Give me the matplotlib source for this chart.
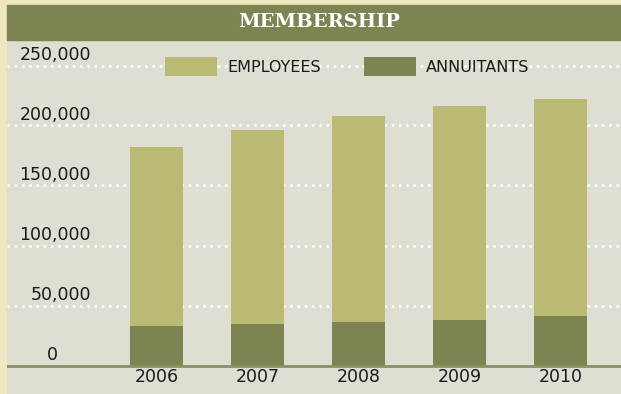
import matplotlib
matplotlib.use("Agg")
import matplotlib.pyplot as plt
from matplotlib.patches import Rectangle
import matplotlib.transforms as mtransforms

# Membership counts by year
years = ["2006", "2007", "2008", "2009", "2010"]
employees = [149200, 161700, 171700, 178400, 180900]
annuitants = [32900, 34600, 36300, 37900, 41300]
y_ticks = [0, 50000, 100000, 150000, 200000, 250000]
y_tick_labels = ["0", "50,000", "100,000", "150,000", "200,000", "250,000"]

OUTER = "#EFE7BF"
PANEL = "#DEDED2"
OLIVE = "#7E8352"
LIGHT = "#BABA75"
AXLINE = "#8C9163"

W, H = 621, 394
fig = plt.figure(figsize=(W / 100, H / 100), dpi=100, facecolor=OUTER)

# Plot panel: x from 7 px to right edge, y from 40 px to bottom
ax = fig.add_axes([7 / W, 0, (W - 7) / W, (H - 40) / H])
ax.set_facecolor(PANEL)
for s in ax.spines.values():
    s.set_visible(False)

x = list(range(len(years)))
bar_w = 0.525
ax.bar(x, annuitants, width=bar_w, color=OLIVE, zorder=3, label="ANNUITANTS")
ax.bar(x, employees, width=bar_w, bottom=annuitants, color=LIGHT, zorder=3,
       label="EMPLOYEES")

ax.set_xlim(-1.480, 4.599)
ax.set_ylim(-23750, 271250)
ax.set_xticks([])
ax.set_yticks([])

# Dotted white gridlines
for v in y_ticks[1:]:
    ax.axhline(v, color="white", lw=1.8, linestyle=(0, (1, 1.9)),
               dash_capstyle="butt", zorder=1)
# Baseline
ax.axhline(0, color=AXLINE, lw=2, zorder=4)

# Y labels sitting just above their gridlines
trans = mtransforms.blended_transform_factory(fig.transFigure, ax.transData)
label_x = {"0": 52}
for v, lab in zip(y_ticks, y_tick_labels):
    if lab in label_x:
        ax.text(label_x[lab] / W, v + 1200, lab, transform=trans, ha="center",
                va="bottom", fontsize=12.5, color="#1a1a1a", zorder=5)
    else:
        ax.text(91 / W, v + 1200, lab, transform=trans, ha="right",
                va="bottom", fontsize=12.5, color="#1a1a1a", zorder=5)

# Year labels under the baseline
for xi, yr in zip(x, years):
    ax.text(xi, -9500, yr, ha="center", va="center", fontsize=12.5,
            color="#1a1a1a", zorder=5)

# Legend
handles, labels = ax.get_legend_handles_labels()
leg = ax.legend(handles[::-1], labels[::-1], loc="center",
                bbox_to_anchor=((347 - 7) / (W - 7), 1 - (66.5 - 40) / (H - 40)),
                ncol=2, frameon=False, fontsize=11.5, handlelength=3.3,
                handleheight=1.45, handletextpad=0.6, columnspacing=2.7,
                borderaxespad=0)
leg.set_zorder(6)
for t in leg.get_texts():
    t.set_color("#1a1a1a")

# Header band with title
fig.patches.append(Rectangle((7 / W, 1 - 40 / H), (W - 7) / W, 35 / H,
                             transform=fig.transFigure, color=OLIVE, zorder=0))
fig.text(319 / W, 1 - 22 / H, "MEMBERSHIP", ha="center", va="center",
         fontsize=14, fontweight="bold", family="DejaVu Serif", color="white")

fig.savefig("out.png", dpi=100, facecolor=OUTER)
